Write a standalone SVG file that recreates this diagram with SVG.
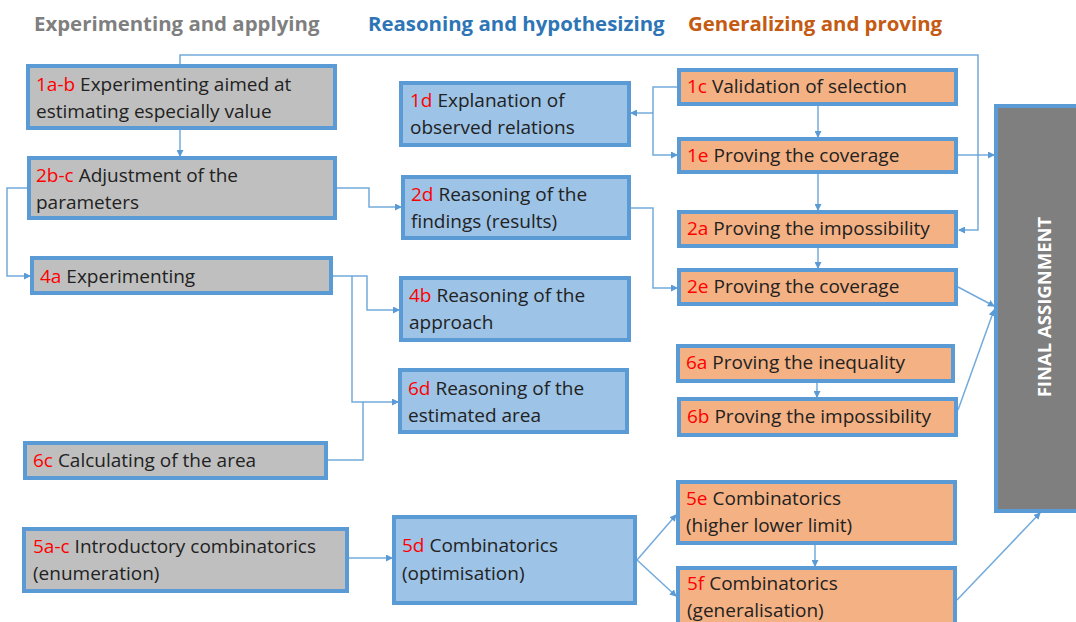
<svg xmlns="http://www.w3.org/2000/svg" width="1076" height="622" viewBox="0 0 1076 622">
<style>
.box{stroke:#5b9bd5;stroke-width:4}
.g{fill:#bfbfbf}
.b{fill:#9dc3e6}
.o{fill:#f4b183}
.t{font-family:"Open Sans","Liberation Sans",sans-serif;font-size:19px;fill:#222}
.r{fill:#ff0000}
.h{font-family:"Open Sans","Liberation Sans",sans-serif;font-size:20.4px;font-weight:bold}
.c{fill:none;stroke:#5b9bd5;stroke-width:1.5;stroke-opacity:0.85}
</style>
<defs>
<marker id="a" markerWidth="7" markerHeight="7" refX="6" refY="3.5" orient="auto" markerUnits="userSpaceOnUse">
<path d="M0,0 L7,3.5 L0,7 z" fill="#5b9bd5"/>
</marker>
</defs>
<rect width="1076" height="622" fill="#ffffff"/>
<g id="headers">
<text class="h" x="34" y="31" fill="#7f7f7f">Experimenting and applying</text>
<text class="h" x="368" y="31" fill="#2e75b6">Reasoning and hypothesizing</text>
<text class="h" x="688" y="31" fill="#c55a11">Generalizing and proving</text>
</g>
<g id="connectors">
<path class="c" d="M180,64 V55 H978 V230 H959" marker-end="url(#a)"/>
<path class="c" d="M180,130 V156" marker-end="url(#a)"/>
<path class="c" d="M27,188 H7 V276 H30" marker-end="url(#a)"/>
<path class="c" d="M337,188 H369 V207 H401" marker-end="url(#a)"/>
<path class="c" d="M333,276 H367 V310 H399" marker-end="url(#a)"/>
<path class="c" d="M352,276 V402 H398" marker-end="url(#a)"/>
<path class="c" d="M328,460 H363 V402"/>
<path class="c" d="M677,87 H653 V155 H677" marker-end="url(#a)"/>
<path class="c" d="M653,113 H631" marker-end="url(#a)"/>
<path class="c" d="M631,208 H653 V288 H677" marker-end="url(#a)"/>
<path class="c" d="M818,106 V137" marker-end="url(#a)"/>
<path class="c" d="M818,174 V210" marker-end="url(#a)"/>
<path class="c" d="M818,248 V268" marker-end="url(#a)"/>
<path class="c" d="M958,155 H994" marker-end="url(#a)"/>
<path class="c" d="M958,287 L994,306" marker-end="url(#a)"/>
<path class="c" d="M958,410 L994,310" marker-end="url(#a)"/>
<path class="c" d="M817,383 V397" marker-end="url(#a)"/>
<path class="c" d="M349,558 H392" marker-end="url(#a)"/>
<path class="c" d="M637,560 L676,515" marker-end="url(#a)"/>
<path class="c" d="M637,560 L676,596" marker-end="url(#a)"/>
<path class="c" d="M815,545 V566" marker-end="url(#a)"/>
<path class="c" d="M957,600 L1040,513" marker-end="url(#a)"/>
</g>
<g id="n1ab"><rect class="box g" x="28" y="66" width="307" height="62"/>
<text class="t" x="36" y="91"><tspan class="r">1a-b</tspan> Experimenting aimed at</text>
<text class="t" x="36" y="118">estimating especially value</text></g>
<g id="n2bc"><rect class="box g" x="29" y="158" width="306" height="60"/>
<text class="t" x="36" y="182"><tspan class="r">2b-c</tspan> Adjustment of the</text>
<text class="t" x="36" y="209">parameters</text></g>
<g id="n4a"><rect class="box g" x="32" y="258" width="299" height="35"/>
<text class="t" x="40" y="283"><tspan class="r">4a</tspan> Experimenting</text></g>
<g id="n6c"><rect class="box g" x="25" y="443" width="301" height="35"/>
<text class="t" x="33" y="467"><tspan class="r">6c</tspan> Calculating of the area</text></g>
<g id="n5ac"><rect class="box g" x="24" y="529" width="323" height="62"/>
<text class="t" x="33" y="553"><tspan class="r">5a-c</tspan> Introductory combinatorics</text>
<text class="t" x="33" y="580">(enumeration)</text></g>
<g id="n1d"><rect class="box b" x="401" y="83" width="228" height="62"/>
<text class="t" x="410" y="107"><tspan class="r">1d</tspan> Explanation of</text>
<text class="t" x="410" y="134">observed relations</text></g>
<g id="n2d"><rect class="box b" x="403" y="177" width="226" height="61"/>
<text class="t" x="411" y="201"><tspan class="r">2d</tspan> Reasoning of the</text>
<text class="t" x="411" y="228">findings (results)</text></g>
<g id="n4b"><rect class="box b" x="401" y="278" width="228" height="62"/>
<text class="t" x="409" y="302"><tspan class="r">4b</tspan> Reasoning of the</text>
<text class="t" x="409" y="329">approach</text></g>
<g id="n6d"><rect class="box b" x="400" y="370" width="227" height="62"/>
<text class="t" x="408" y="395"><tspan class="r">6d</tspan> Reasoning of the</text>
<text class="t" x="408" y="422">estimated area</text></g>
<g id="n5d"><rect class="box b" x="394" y="517" width="241" height="86"/>
<text class="t" x="402" y="552"><tspan class="r">5d</tspan> Combinatorics</text>
<text class="t" x="402" y="580">(optimisation)</text></g>
<g id="n1c"><rect class="box o" x="679" y="70" width="277" height="34"/>
<text class="t" x="687" y="93"><tspan class="r">1c</tspan> Validation of selection</text></g>
<g id="n1e"><rect class="box o" x="679" y="139" width="277" height="33"/>
<text class="t" x="687" y="162"><tspan class="r">1e</tspan> Proving the coverage</text></g>
<g id="n2a"><rect class="box o" x="679" y="212" width="277" height="34"/>
<text class="t" x="687" y="235"><tspan class="r">2a</tspan> Proving the impossibility</text></g>
<g id="n2e"><rect class="box o" x="679" y="270" width="277" height="34"/>
<text class="t" x="687" y="293"><tspan class="r">2e</tspan> Proving the coverage</text></g>
<g id="n6a"><rect class="box o" x="678" y="346" width="275" height="35"/>
<text class="t" x="686" y="369"><tspan class="r">6a</tspan> Proving the inequality</text></g>
<g id="n6b"><rect class="box o" x="679" y="399" width="277" height="36"/>
<text class="t" x="687" y="423"><tspan class="r">6b</tspan> Proving the impossibility</text></g>
<g id="n5e"><rect class="box o" x="678" y="482" width="277" height="61"/>
<text class="t" x="686" y="505"><tspan class="r">5e</tspan> Combinatorics</text>
<text class="t" x="686" y="532">(higher lower limit)</text></g>
<g id="n5f"><rect class="box o" x="678" y="568" width="277" height="70"/>
<text class="t" x="687" y="590"><tspan class="r">5f</tspan> Combinatorics</text>
<text class="t" x="687" y="617">(generalisation)</text></g>
<g id="final"><rect class="box" fill="#7f7f7f" x="996" y="106" width="84" height="405"/>
<text x="1043" y="307" transform="rotate(-90 1043 307)" text-anchor="middle" dominant-baseline="central" font-family="'Open Sans','Liberation Sans',sans-serif" font-size="18.5" font-weight="bold" fill="#ffffff">FINAL ASSIGNMENT</text></g>
</svg>
